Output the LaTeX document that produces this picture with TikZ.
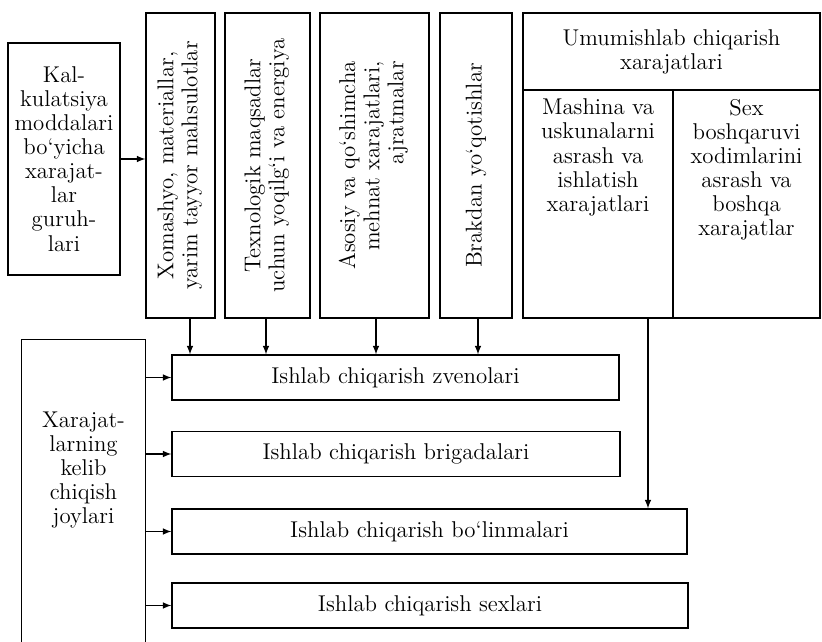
\documentclass[tikz,border=0pt]{standalone}
\usepackage{graphicx}
\usetikzlibrary{positioning}
\begin{document}
\begin{tikzpicture}[
	x=0.02cm, y=-0.02cm,
	line width=0.7pt,
	every node/.style={font=\fontsize{13}{13.7}\selectfont},
	box/.style = {draw, line width=0.7pt, inner sep=0pt, align=center},
	col/.style = {box, minimum height=6.1cm},
	low/.style = {box, minimum height=0.9cm},
	]
	\useasboundingbox (0,0) rectangle (822,642);
	% cost groups
	\node[box, minimum width=2.24cm, minimum height=4.64cm] (kalk) at (64,159)
		{Kal-\\kulatsiya\\moddalari\\bo‘yicha\\xarajat-\\lar\\guruh-\\lari};
	\node[col, minimum width=1.38cm] (xom) at (180.5,165.5)
		{\rotatebox{90}{\begin{tabular}{@{}c@{}}Xomashyo, materiallar,\\yarim tayyor mahsulotlar\end{tabular}}};
	\node[col, minimum width=1.7cm] (tex) at (267.5,165.5)
		{\rotatebox{90}{\begin{tabular}{@{}c@{}}Texnologik maqsadlar\\uchun yoqilg‘i va energiya\end{tabular}}};
	\node[col, minimum width=2.18cm] (aso) at (374.5,165.5)
		{\rotatebox{90}{\begin{tabular}{@{}r@{}}Asosiy va qo‘shimcha\\mehnat xarajatlari,\\ajratmalar\end{tabular}}};
	\node[col, minimum width=1.44cm] (bra) at (476,165.5)
		{\rotatebox{90}{Brakdan yo‘qotishlar}};
	\node[box, minimum width=5.94cm, minimum height=1.54cm] (umum) at (671.5,51.5)
		{Umumishlab chiqarish\\xarajatlari};
	\node[box, minimum width=3cm, minimum height=4.56cm] (mash) at (598,204) {};
	\node[box, minimum width=2.94cm, minimum height=4.56cm] (sex) at (746.5,204) {};
	\node[align=center, inner sep=0pt, below=0.18cm of mash.north] (mashtxt)
		{Mashina va\\uskunalarni\\asrash va\\ishlatish\\xarajatlari};
	\node[align=center, inner sep=0pt, below=0.18cm of sex.north] (sextxt)
		{Sex\\boshqaruvi\\xodimlarini\\asrash va\\boshqa\\xarajatlar};
	% places of origin
	\node[align=center, inner sep=0pt, minimum width=2.46cm, minimum height=5.2cm] (xar) at (83.5,470)
		{Xarajat-\\larning\\kelib\\chiqish\\joylari};
	\draw ([yshift=-1cm]xar.south west) -- (xar.north west) -- (xar.north east) -- ([yshift=-1cm]xar.south east);
	\node[low, minimum width=8.94cm] (zv) at (395.5,377.5) {Ishlab chiqarish zvenolari};
	\node[low, minimum width=8.96cm] (br) at (396,454) {Ishlab chiqarish brigadalari};
	\node[low, minimum width=10.3cm] (bo) at (429.5,531.5) {Ishlab chiqarish bo‘linmalari};
	\node[low, minimum width=10.32cm] (sx) at (430,605.5) {Ishlab chiqarish sexlari};
	% arrows
	\draw[-latex] (kalk.east) -- (kalk.east -| xom.west);
	\foreach \c/\s in {xom/0.19cm,tex/-0.03cm,aso/0.03cm,bra/0.04cm}
		\draw[-latex] ([xshift=\s]\c.south) -- ([xshift=\s]\c.south |- zv.north);
	\draw[-latex] ([xshift=1cm]mash.south) -- ([xshift=1cm]mash.south |- bo.north);
	\foreach \b in {zv,br,bo,sx}
		\draw[-latex] (xar.east |- \b.west) -- (\b.west);
\end{tikzpicture}
\end{document}
